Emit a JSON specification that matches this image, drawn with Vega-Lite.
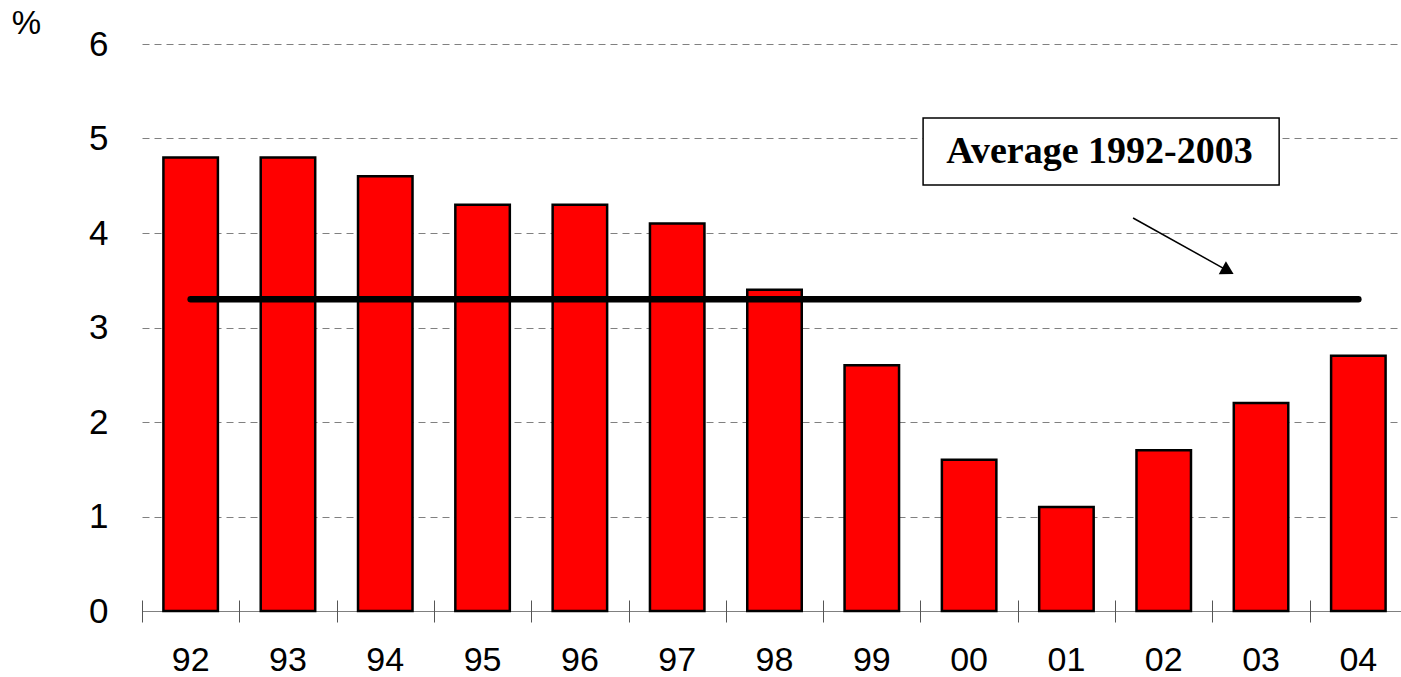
{
  "$schema": "https://vega.github.io/schema/vega-lite/v6.json",
  "width": 1259,
  "height": 567,
  "autosize": "none",
  "padding": {"left": 142, "top": 44, "right": 0, "bottom": 66},
  "background": "white",
  "config": {"view": {"stroke": null}, "font": "Liberation Sans"},
  "datasets": {
    "bars": [
      {"year": "92", "value": 4.8},
      {"year": "93", "value": 4.8},
      {"year": "94", "value": 4.6},
      {"year": "95", "value": 4.3},
      {"year": "96", "value": 4.3},
      {"year": "97", "value": 4.1},
      {"year": "98", "value": 3.4},
      {"year": "99", "value": 2.6},
      {"year": "00", "value": 1.6},
      {"year": "01", "value": 1.1},
      {"year": "02", "value": 1.7},
      {"year": "03", "value": 2.2},
      {"year": "04", "value": 2.7}
    ],
    "avg": [
      {"year": "92", "avg": 3.3},
      {"year": "04", "avg": 3.3}
    ],
    "box": [
      {"x1": 8.027, "x2": 11.686, "y1": 5.217, "y2": 4.508, "tx": 9.84, "ty": 4.86, "label": "Average 1992-2003"}
    ],
    "arrow": [
      {"x1": 10.185, "y1": 4.159, "x2": 11.16, "y2": 3.6}
    ]
  },
  "resolve": {"scale": {"x": "independent"}, "axis": {"x": "independent"}},
  "layer": [
    {
      "data": {"name": "bars"},
      "mark": {"type": "bar", "fill": "#FF0000", "stroke": "#000000", "strokeWidth": 2.5},
      "encoding": {
        "x": {
          "field": "year", "type": "nominal", "sort": null,
          "scale": {"type": "band", "domain": ["92","93","94","95","96","97","98","99","00","01","02","03","04"], "range": [0, 1265], "paddingInner": 0.44, "paddingOuter": 0.22},
          "axis": {"orient": "bottom", "title": null, "domain": true, "domainColor": "#808080", "domainWidth": 1, "ticks": false, "labelPadding": 32, "labelFontSize": 34, "labelColor": "#000000", "labelAngle": 0, "grid": false}
        },
        "y": {
          "field": "value", "type": "quantitative",
          "scale": {"domain": [0, 6], "nice": false, "zero": true},
          "axis": {"values": [0,1,2,3,4,5,6], "format": "d", "title": "%", "titleAngle": 0, "titleX": -116, "titleY": -11, "titleAlign": "center", "titleBaseline": "alphabetic", "titleFontSize": 33, "titleFontWeight": "normal", "titleColor": "#000000", "domain": false, "ticks": false, "labelPadding": 34, "labelFontSize": 35, "labelColor": "#000000", "grid": true, "gridDash": [7, 5], "gridColor": "#808080", "gridWidth": 1}
        }
      }
    },
    {
      "data": {"name": "avg"},
      "mark": {"type": "line", "color": "#000000", "strokeWidth": 6.5, "strokeCap": "round"},
      "encoding": {
        "x": {
          "field": "year", "type": "nominal", "sort": null,
          "scale": {"type": "band", "domain": ["92","93","94","95","96","97","98","99","00","01","02","03","04"], "range": [0, 1265], "paddingInner": 0.44, "paddingOuter": 0.22},
          "axis": {"orient": "bottom", "title": null, "domain": false, "labels": false, "ticks": true, "tickSize": 22, "tickColor": "#555555", "tickWidth": 1, "tickBand": "center", "tickOffset": -48.65, "offset": -11, "grid": false}
        },
        "y": {"field": "avg", "type": "quantitative"}
      }
    },
    {
      "data": {"name": "arrow"},
      "mark": {"type": "rule", "color": "#000000", "strokeWidth": 1.5},
      "encoding": {
        "x": {"field": "x1", "type": "quantitative", "scale": {"domain": [0, 13], "range": [0, 1265], "nice": false, "zero": false}, "axis": null},
        "x2": {"field": "x2"},
        "y": {"field": "y1", "type": "quantitative"},
        "y2": {"field": "y2"}
      }
    },
    {
      "data": {"name": "arrow"},
      "mark": {"type": "point", "shape": "triangle-right", "filled": true, "color": "#000000", "opacity": 1, "size": 220, "angle": 29},
      "encoding": {
        "x": {"field": "x2", "type": "quantitative", "scale": {"domain": [0, 13], "range": [0, 1265], "nice": false, "zero": false}, "axis": null},
        "y": {"field": "y2", "type": "quantitative"}
      }
    },
    {
      "data": {"name": "box"},
      "mark": {"type": "rect", "fill": "#FFFFFF", "stroke": "#000000", "strokeWidth": 1.5},
      "encoding": {
        "x": {"field": "x1", "type": "quantitative", "scale": {"domain": [0, 13], "range": [0, 1265], "nice": false, "zero": false}, "axis": null},
        "x2": {"field": "x2"},
        "y": {"field": "y1", "type": "quantitative"},
        "y2": {"field": "y2"}
      }
    },
    {
      "data": {"name": "box"},
      "mark": {"type": "text", "font": "Liberation Serif", "fontWeight": "bold", "fontSize": 38, "align": "center", "baseline": "middle", "color": "#000000"},
      "encoding": {
        "x": {"field": "tx", "type": "quantitative", "scale": {"domain": [0, 13], "range": [0, 1265], "nice": false, "zero": false}, "axis": null},
        "y": {"field": "ty", "type": "quantitative"},
        "text": {"field": "label"}
      }
    }
  ]
}
